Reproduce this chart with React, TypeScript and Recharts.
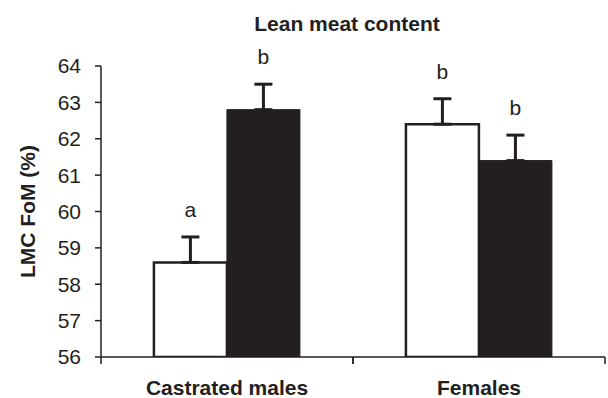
import { BarChart, Bar, XAxis, YAxis, ErrorBar, LabelList } from 'recharts'

const categories = ['Castrated males', 'Females']
const openMeans = [58.6, 62.4]
const solidMeans = [62.8, 61.4]
const openSE = [0.7, 0.7]
const solidSE = [0.7, 0.7]
const openLetters = ['a', 'b']
const solidLetters = ['b', 'b']
const yTicks = [56, 57, 58, 59, 60, 61, 62, 63, 64]

const INK = '#231f20'
const FONT = '"Liberation Sans", Arial, sans-serif'
const BAND = 252 // half of plot width, used for boundary ticks

const data = categories.map((c, i) => ({
  name: c,
  open: openMeans[i],
  solid: solidMeans[i],
  openErr: [0, openSE[i]],
  solidErr: [0, solidSE[i]],
}))

const CatTick = ({ x, y, payload }: any) => (
  <g>
    <line x1={x - BAND / 2} y1={y} x2={x - BAND / 2} y2={y + 7} stroke={INK} strokeWidth={1.5} />
    <line x1={x + BAND / 2} y1={y} x2={x + BAND / 2} y2={y + 7} stroke={INK} strokeWidth={1.5} />
    <text x={x} y={y + 38} textAnchor="middle" fontFamily={FONT} fontWeight="bold" fontSize={21} fill={INK}>
      {payload.value}
    </text>
  </g>
)

const letterLabel = (letters: string[], errs: number[]) => (props: any) => {
  const { x, y, width, height, value, index } = props
  const pxPerUnit = height / (value - yTicks[0])
  const capY = y - errs[index] * pxPerUnit
  return (
    <text x={x + width / 2} y={capY - 20} textAnchor="middle" fontFamily={FONT} fontSize={21} fill={INK}>
      {letters[index]}
    </text>
  )
}

const YLabel = ({ viewBox }: any) => {
  const cx = 27
  const cy = viewBox.y + viewBox.height / 2
  return (
    <text
      x={cx}
      y={cy}
      transform={`rotate(-90, ${cx}, ${cy})`}
      textAnchor="middle"
      dominantBaseline="central"
      fontFamily={FONT}
      fontWeight="bold"
      fontSize={21}
      fill={INK}
    >
      LMC FoM (%)
    </text>
  )
}

export default function App() {
  return (
    <div style={{ position: 'absolute', left: 0, top: 0, width: 608, height: 398, background: '#fff' }}>
      <div
        style={{
          position: 'absolute',
          left: 0,
          width: 694,
          top: 12,
          textAlign: 'center',
          fontFamily: FONT,
          fontWeight: 'bold',
          fontSize: 21,
          color: INK,
        }}
      >
        Lean meat content
      </div>
      <BarChart
        width={608}
        height={398}
        data={data}
        margin={{ top: 66, right: 3, left: 0, bottom: 0 }}
        barCategoryGap="21%"
        barGap={0}
      >
        <XAxis
          dataKey="name"
          height={41}
          axisLine={{ stroke: INK, strokeWidth: 1.5 }}
          tickLine={false}
          tickSize={0}
          tickMargin={0}
          tick={<CatTick />}
          interval={0}
        />
        <YAxis
          width={101}
          domain={[56, 64]}
          ticks={yTicks}
          allowDataOverflow
          axisLine={{ stroke: INK, strokeWidth: 1.5 }}
          tickLine={{ stroke: INK, strokeWidth: 1.5 }}
          tickSize={6}
          tickMargin={14}
          tick={{ fill: INK, fontSize: 21, fontFamily: FONT }}
          label={<YLabel />}
        />
        <Bar dataKey="open" fill="#fff" stroke={INK} strokeWidth={2.5} isAnimationActive={false}>
          <ErrorBar dataKey="openErr" width={9} stroke={INK} strokeWidth={3} direction="y" />
          <LabelList dataKey="open" content={letterLabel(openLetters, openSE)} />
        </Bar>
        <Bar dataKey="solid" fill={INK} stroke={INK} strokeWidth={1} isAnimationActive={false}>
          <ErrorBar dataKey="solidErr" width={9} stroke={INK} strokeWidth={3} direction="y" />
          <LabelList dataKey="solid" content={letterLabel(solidLetters, solidSE)} />
        </Bar>
      </BarChart>
    </div>
  )
}
